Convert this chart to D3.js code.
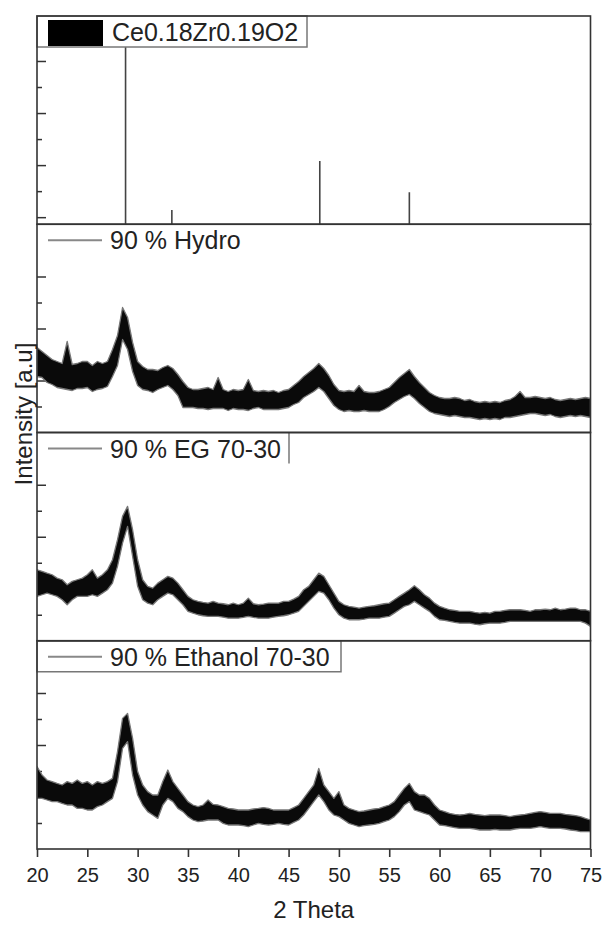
<!DOCTYPE html>
<html>
<head>
<meta charset="utf-8">
<script src="https://cdn.jsdelivr.net/npm/d3@7"></script>
<style>
  body { margin: 0; background: #fff; }
  text { font-family: "Liberation Sans", Arial, sans-serif; fill: #222; }
</style>
</head>
<body>
<div id="chart"></div>
<script>
// Canvas and the outer frame of the stacked plot.
const WIDTH = 603;
const HEIGHT = 926;
const FRAME = { left: 37, right: 590.5, top: 16, bottom: 849 };
const PANELS = 4;
const PANEL_H = (FRAME.bottom - FRAME.top) / PANELS;

// Reference pattern (stick lines): 2 theta in degrees, relative intensity in %.
const refName = "Ce0.18Zr0.19O2";
const refTheta = [28.8, 33.4, 48.1, 57.0];
const refIntensity = [100, 3.4, 27, 12];

// Sample names, top to bottom.
const sampleNames = ["90 % Hydro", "90 % EG 70-30", "90 % Ethanol 70-30"];

// X tick labels.
const xTicks = [20, 25, 30, 35, 40, 45, 50, 55, 60, 65, 70, 75];

// The measured patterns are very noisy, so each one is kept as the upper and
// lower edge of its noise band (counts), read every 0.5 degree from 20 to 75.
const twoTheta = d3.range(20, 75.001, 0.5);

const hydroHi = [
  425, 405, 385, 365, 355, 345, 455, 340, 345, 355,
  355, 335, 355, 345, 355, 415, 485, 625, 575, 450,
  355, 330, 315, 315, 310, 325, 335, 320, 290, 255,
  225, 215, 215, 220, 225, 215, 275, 215, 205, 215,
  210, 215, 265, 210, 205, 210, 205, 210, 200, 210,
  215, 235, 255, 280, 300, 320, 345, 320, 285, 240,
  210, 205, 210, 205, 235, 205, 200, 200, 205, 215,
  225, 250, 275, 295, 315, 280, 250, 225, 200, 185,
  175, 170, 170, 175, 170, 160, 165, 155, 150, 155,
  150, 155, 150, 160, 165, 180, 205, 175, 175, 180,
  175, 170, 175, 165, 160, 165, 170, 165, 170, 175, 170,
];
const hydroLo = [
  280, 275, 250, 240, 225, 220, 215, 210, 220, 220,
  225, 205, 215, 220, 230, 280, 335, 465, 415, 305,
  235, 215, 210, 200, 215, 225, 235, 215, 185, 125,
  125, 125, 120, 120, 115, 120, 120, 120, 110, 120,
  115, 115, 110, 120, 125, 115, 115, 115, 115, 120,
  125, 140, 150, 175, 190, 205, 225, 205, 170, 135,
  115, 105, 110, 105, 105, 110, 105, 105, 105, 115,
  130, 150, 165, 180, 190, 170, 145, 125, 105, 95,
  90, 85, 80, 85, 80, 75, 75, 70, 65, 70,
  65, 70, 65, 75, 75, 80, 85, 90, 95, 95,
  90, 85, 90, 80, 75, 80, 85, 80, 85, 80, 75,
];

const egHi = [
  355, 347, 338, 330, 313, 305, 280, 297, 305, 313,
  330, 355, 313, 330, 355, 405, 505, 622, 672, 555,
  405, 305, 272, 263, 288, 305, 322, 313, 288, 255,
  222, 205, 197, 192, 188, 197, 188, 185, 180, 188,
  180, 188, 213, 185, 180, 183, 188, 188, 188, 197,
  197, 208, 222, 255, 272, 305, 338, 322, 280, 238,
  197, 180, 172, 168, 163, 168, 172, 175, 180, 185,
  188, 205, 222, 238, 255, 275, 255, 230, 213, 188,
  172, 163, 155, 152, 147, 147, 147, 142, 138, 142,
  138, 147, 147, 152, 155, 155, 155, 152, 147, 155,
  155, 158, 155, 163, 155, 158, 163, 163, 155, 155, 147,
];
const egLo = [
  222, 230, 238, 230, 222, 205, 180, 205, 222, 222,
  222, 230, 222, 238, 255, 288, 372, 488, 572, 422,
  272, 205, 188, 180, 205, 222, 238, 230, 205, 180,
  147, 138, 130, 125, 122, 122, 122, 118, 113, 113,
  113, 117, 122, 117, 113, 113, 113, 118, 122, 125,
  130, 138, 147, 172, 197, 222, 247, 238, 205, 163,
  130, 113, 105, 105, 105, 108, 113, 113, 113, 118,
  122, 138, 155, 172, 180, 197, 180, 163, 147, 122,
  105, 102, 97, 92, 88, 88, 88, 83, 80, 85,
  88, 88, 88, 92, 97, 97, 97, 97, 97, 97,
  97, 97, 97, 97, 97, 97, 97, 97, 97, 88, 72,
];

const ethanolHi = [
  412, 370, 345, 337, 328, 320, 337, 328, 345, 328,
  337, 320, 337, 328, 337, 353, 487, 653, 678, 553,
  387, 320, 287, 270, 270, 337, 395, 337, 303, 270,
  237, 220, 212, 220, 245, 223, 220, 212, 203, 200,
  195, 195, 195, 200, 203, 207, 203, 195, 195, 195,
  195, 207, 220, 253, 287, 320, 403, 320, 287, 253,
  287, 220, 203, 195, 187, 190, 195, 200, 203, 212,
  220, 237, 270, 303, 328, 287, 270, 270, 253, 220,
  195, 187, 178, 173, 170, 173, 178, 173, 170, 167,
  170, 170, 170, 167, 162, 167, 170, 173, 178, 183,
  187, 183, 178, 178, 178, 173, 170, 167, 162, 153, 145,
];
const ethanolLo = [
  253, 253, 245, 237, 237, 228, 220, 220, 203, 203,
  195, 195, 212, 220, 237, 253, 337, 503, 537, 370,
  270, 220, 187, 170, 153, 220, 253, 237, 203, 187,
  162, 145, 137, 140, 145, 145, 145, 128, 120, 120,
  120, 117, 112, 120, 128, 123, 120, 123, 128, 123,
  120, 133, 145, 170, 203, 237, 270, 237, 195, 170,
  162, 145, 128, 120, 112, 117, 120, 123, 128, 137,
  145, 162, 187, 220, 237, 195, 187, 178, 170, 145,
  120, 117, 112, 107, 103, 103, 103, 100, 95, 95,
  95, 98, 95, 95, 95, 100, 103, 103, 103, 107,
  112, 107, 103, 103, 103, 100, 95, 92, 87, 87, 87,
];

const samples = [
  { name: sampleNames[0], hi: hydroHi, lo: hydroLo },
  { name: sampleNames[1], hi: egHi, lo: egLo },
  { name: sampleNames[2], hi: ethanolHi, lo: ethanolLo },
];

// Legend box styles per panel (top to bottom).
const LEGEND = [
  { width: 270, border: "all" },
  { width: 215, border: "none" },
  { width: 252, border: "right" },
  { width: 304, border: "all" },
];
const LEGEND_H = 31;

const AXIS_COLOR = "#333";
const BOX_COLOR = "#777";

let svg = d3
  .select("#chart")
  .append("svg")
  .attr("width", WIDTH)
  .attr("height", HEIGHT);

let x = d3.scaleLinear().domain([20, 75]).range([FRAME.left, FRAME.right]);

function panelTop(i) {
  return FRAME.top + i * PANEL_H;
}

// Clip everything that is drawn inside the frame.
svg
  .append("clipPath")
  .attr("id", "clip")
  .append("rect")
  .attr("x", FRAME.left)
  .attr("y", FRAME.top)
  .attr("width", FRAME.right - FRAME.left)
  .attr("height", FRAME.bottom - FRAME.top);

// Inward y ticks on the left edge of a panel (no labels).
function drawYTicks(y, major, minor) {
  [
    { values: major, size: 9 },
    { values: minor, size: 5 },
  ].forEach((t) => {
    let g = svg
      .append("g")
      .attr("transform", "translate(" + FRAME.left + ",0)")
      .call(d3.axisRight(y).tickValues(t.values).tickSize(t.size).tickFormat(""));
    g.select(".domain").remove();
    g.selectAll("line").attr("stroke", AXIS_COLOR).attr("stroke-width", 1.5);
  });
}

// Panel 0: reference stick pattern.
let yRef = d3
  .scaleLinear()
  .domain([-3.4, 96.6])
  .range([panelTop(1), panelTop(0)]);

drawYTicks(yRef, [0, 25, 50, 75], [12.5, 37.5, 62.5, 87.5]);

svg
  .append("g")
  .attr("clip-path", "url(#clip)")
  .selectAll("line")
  .data(refTheta)
  .enter()
  .append("line")
  .attr("x1", (d) => x(d))
  .attr("x2", (d) => x(d))
  .attr("y1", yRef(yRef.domain()[0]))
  .attr("y2", (d, i) => yRef(refIntensity[i]))
  .attr("stroke", "#444")
  .attr("stroke-width", 1.6);

// Panels 1-3: measured patterns, drawn as their noise band.
samples.forEach((s, k) => {
  let i = k + 1;
  let y = d3
    .scaleLinear()
    .domain([0, PANEL_H * 5])
    .range([panelTop(i + 1), panelTop(i)]);

  drawYTicks(y, [260, 520, 780], [130, 390, 650, 910]);

  let band = d3
    .area()
    .x((d, j) => x(twoTheta[j]))
    .y0((d, j) => y(s.lo[j]))
    .y1((d) => y(d));

  svg
    .append("path")
    .attr("clip-path", "url(#clip)")
    .datum(s.hi)
    .attr("d", band)
    .attr("fill", "#0a0a0a")
    .attr("stroke", "#777")
    .attr("stroke-width", 1.3)
    .attr("stroke-linejoin", "round");
});

// Legends, one per panel, in the top-left corner.
LEGEND.forEach((lg, i) => {
  let top = panelTop(i);
  let g = svg.append("g").attr("transform", "translate(" + FRAME.left + "," + top + ")");

  g.append("rect")
    .attr("width", lg.width)
    .attr("height", LEGEND_H)
    .attr("fill", "#fff")
    .attr("stroke", lg.border === "all" ? BOX_COLOR : "none")
    .attr("stroke-width", 1.5);

  if (lg.border === "right") {
    g.append("line")
      .attr("x1", lg.width)
      .attr("x2", lg.width)
      .attr("y1", 0)
      .attr("y2", LEGEND_H)
      .attr("stroke", BOX_COLOR)
      .attr("stroke-width", 1.5);
  }

  if (i === 0) {
    // Filled swatch for the reference pattern.
    g.append("rect")
      .attr("x", 11)
      .attr("y", 4)
      .attr("width", 55)
      .attr("height", 26)
      .attr("fill", "#000");
  } else {
    g.append("line")
      .attr("x1", 11)
      .attr("x2", 65)
      .attr("y1", 16)
      .attr("y2", 16)
      .attr("stroke", "#888")
      .attr("stroke-width", 2);
  }

  g.append("text")
    .attr("x", i === 0 ? 75 : 73)
    .attr("y", 25)
    .style("font-size", "25px")
    .text(i === 0 ? refName : sampleNames[i - 1]);
});

// Frame: one box per panel.
d3.range(PANELS).forEach((i) => {
  svg
    .append("rect")
    .attr("x", FRAME.left)
    .attr("y", panelTop(i))
    .attr("width", FRAME.right - FRAME.left)
    .attr("height", PANEL_H)
    .attr("fill", "none")
    .attr("stroke", AXIS_COLOR)
    .attr("stroke-width", 1.6);
});

// Bottom x axis with outward ticks.
let xAxis = svg
  .append("g")
  .attr("transform", "translate(0," + FRAME.bottom + ")")
  .call(d3.axisBottom(x).tickValues(xTicks).tickSize(8).tickPadding(11));
xAxis.select(".domain").remove();
xAxis.selectAll("line").attr("stroke", AXIS_COLOR).attr("stroke-width", 1.6);
xAxis
  .selectAll("text")
  .style("font-size", "20px")
  .style("font-family", '"Liberation Sans", Arial, sans-serif')
  .attr("fill", "#222");

// Axis titles.
svg
  .append("text")
  .attr("x", (FRAME.left + FRAME.right) / 2)
  .attr("y", 918)
  .attr("text-anchor", "middle")
  .style("font-size", "24px")
  .text("2 Theta");

svg
  .append("text")
  .attr("transform", "translate(32,414) rotate(-90)")
  .attr("text-anchor", "middle")
  .style("font-size", "24px")
  .text("Intensity [a.u]");
</script>
</body>
</html>
